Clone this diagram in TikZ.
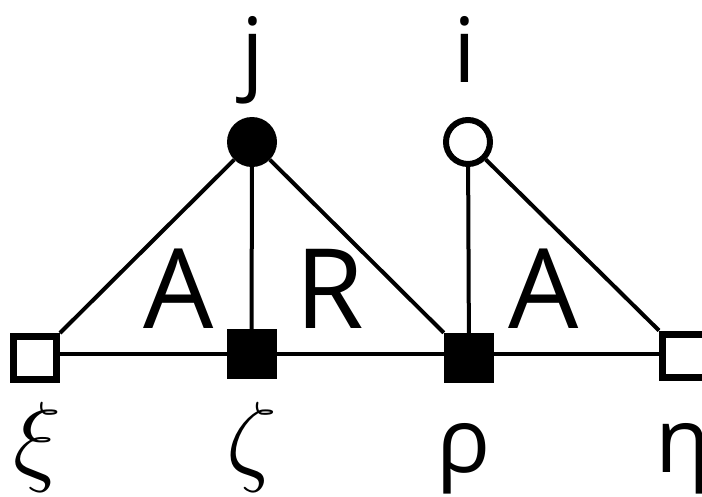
\documentclass[tikz,border=0pt]{standalone}
\usepackage{fix-cm}
\usepackage{fontspec}
\setmainfont{Open Sans}
\pgfdeclarelayer{background}
\pgfsetlayers{background,main}
\tikzset{
  fullvert/.style={circle, fill=black, minimum size=50pt, inner sep=0pt},
  openvert/.style={circle, draw=black, line width=6pt, fill=white, minimum size=44pt, inner sep=0pt},
  fullsq/.style={rectangle, fill=black, minimum size=50pt, inner sep=0pt},
  opensq/.style={rectangle, draw=black, line width=7pt, fill=white, minimum size=43pt, inner sep=0pt},
  edge/.style={line width=4pt, black},
  toplabel/.style={anchor=base, inner sep=0pt, font=\fontsize{90}{100}\selectfont},
  botlabel/.style={anchor=base, inner sep=0pt, font=\fontsize{90}{100}\selectfont},
  mathlabel/.style={anchor=base, inner sep=0pt, font=\fontsize{101}{110}\selectfont},
  biglabel/.style={anchor=base, inner sep=0pt, font=\fontsize{111}{120}\selectfont}
}
\begin{document}
\begin{tikzpicture}[x=1pt, y=-1pt]
\useasboundingbox (0,0) rectangle (702,496);
% vertices
\node[fullvert] (j) at (252,142) {};
\node[openvert] (i) at (468,142) {};
\node[opensq] (xi) at (35,358) {};
\node[fullsq] (zeta) at (251.5,354) {};
\node[fullsq] (rho) at (469,358) {};
\node[opensq] (eta) at (684,355.5) {};
% edges
\begin{pgfonlayer}{background}
\fill[white] (0,0) rectangle (702,496);
\draw[edge] (j) -- (xi.north east);
\draw[edge] (j) -- (zeta);
\draw[edge] (j) -- (rho.north west);
\draw[edge] (i) -- (rho);
\draw[edge] (i) -- (eta.north west);
\draw[edge] (xi.east |- 0,353.5) -- (eta.west |- 0,353.5);
\end{pgfonlayer}
% labels
\node[toplabel] (lj) at (253,82) {j};
\node[toplabel] (li) at (465,82) {i};
\node[mathlabel] (lxi) at (38,472) {$\xi$};
\node[mathlabel] (lzeta) at (252,472) {$\zeta$};
\node[botlabel] (lrho) at (464,472) {ρ};
\node[botlabel] (leta) at (683,472) {η};
\node[biglabel] (la1) at (179,328) {A};
\node[biglabel] (lr) at (330,328) {R};
\node[biglabel] (la2) at (544,328) {A};
\end{tikzpicture}
\end{document}
